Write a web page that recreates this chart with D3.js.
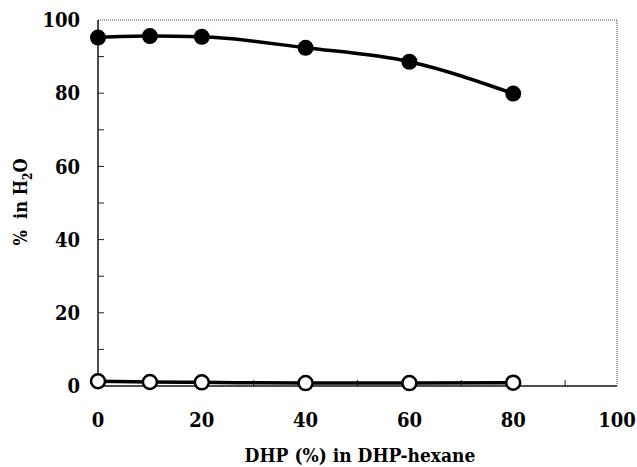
<!DOCTYPE html>
<html>
<head>
<meta charset="utf-8">
<script src="https://cdn.jsdelivr.net/npm/d3@7"></script>
<style>
  body { margin: 0; background: #fff; }
  svg { display: block; }
</style>
</head>
<body>
<svg></svg>
<script>
// data
const dhpPct = [0, 10, 20, 40, 60, 80];
const filledPct = [95.2, 95.6, 95.4, 92.4, 88.6, 79.9];
const openPct = [1.3, 1.1, 1.0, 0.8, 0.8, 0.9];
const xTicks = [0, 20, 40, 60, 80, 100];
const yTicks = [0, 20, 40, 60, 80, 100];

const W = 637, H = 467;
const margin = {top: 20, right: 20, bottom: 81, left: 98};
const width = W - margin.left - margin.right;
const height = H - margin.top - margin.bottom;
const serif = "'DejaVu Serif Condensed', 'DejaVu Serif', serif";

const svg = d3.select('svg').attr('width', W).attr('height', H)
    .style('font-family', serif).style('font-weight', 'bold')
    .style('font-stretch', 'condensed');
const g = svg.append('g').attr('transform', 'translate(' + margin.left + ',' + margin.top + ')');

const x = d3.scaleLinear().domain([0, 100]).range([0, width]);
const y = d3.scaleLinear().domain([0, 100]).range([height, 0]);

// frame: thin dotted top/right, darker left/bottom
g.append('rect')
    .attr('width', width).attr('height', height)
    .attr('fill', 'none').attr('stroke', '#444').attr('stroke-width', 1)
    .attr('stroke-dasharray', '1,1');
g.append('line').attr('x1', 0).attr('x2', 0).attr('y1', 0).attr('y2', height)
    .attr('stroke', '#222').attr('stroke-width', 1.5);
g.append('line').attr('x1', 0).attr('x2', width).attr('y1', height).attr('y2', height)
    .attr('stroke', '#222').attr('stroke-width', 1.5);

// inward minor ticks every 10
const minor = d3.range(10, 100, 10);
g.selectAll('.ty').data(minor).join('line')
    .attr('x1', 0).attr('x2', 6)
    .attr('y1', d => y(d)).attr('y2', d => y(d))
    .attr('stroke', '#222').attr('stroke-width', 1);
g.selectAll('.tx').data(minor).join('line')
    .attr('y1', height).attr('y2', height - 6)
    .attr('x1', d => x(d)).attr('x2', d => x(d))
    .attr('stroke', '#222').attr('stroke-width', 1);

// tick labels
g.selectAll('.ly').data(yTicks).join('text')
    .attr('x', -18).attr('y', d => y(d)).attr('dy', '0.36em')
    .attr('text-anchor', 'end').attr('font-size', 20)
    .text(d => d);
g.selectAll('.lx').data(xTicks).join('text')
    .attr('x', d => x(d)).attr('y', height + 41)
    .attr('text-anchor', 'middle').attr('font-size', 20)
    .text(d => d);

// axis titles
svg.append('text')
    .attr('x', 360).attr('y', 462)
    .attr('text-anchor', 'middle').attr('font-size', 19)
    .text('DHP (%) in DHP-hexane');
const yt = svg.append('text')
    .attr('transform', 'translate(27,202) rotate(-90)')
    .attr('text-anchor', 'middle').attr('font-size', 18);
yt.append('tspan').text('%\u00A0\u00A0in H');
yt.append('tspan').attr('font-size', 12).attr('dy', 5).text('2');
yt.append('tspan').attr('dy', -5).text('O');

const line = d3.line().x(d => x(d[0])).y(d => y(d[1])).curve(d3.curveMonotoneX);
const filled = dhpPct.map((d, i) => [d, filledPct[i]]);
const open = dhpPct.map((d, i) => [d, openPct[i]]);

g.append('path').datum(filled).attr('d', line)
    .attr('fill', 'none').attr('stroke', '#000').attr('stroke-width', 3.5);
g.append('path').datum(open).attr('d', line)
    .attr('fill', 'none').attr('stroke', '#000').attr('stroke-width', 3.5);

g.selectAll('.pf').data(filled).join('circle')
    .attr('cx', d => x(d[0])).attr('cy', d => y(d[1])).attr('r', 8)
    .attr('fill', '#000');
g.selectAll('.po').data(open).join('circle')
    .attr('cx', d => x(d[0])).attr('cy', d => y(d[1])).attr('r', 7)
    .attr('fill', '#fff').attr('stroke', '#000').attr('stroke-width', 2.5);
</script>
</body>
</html>
